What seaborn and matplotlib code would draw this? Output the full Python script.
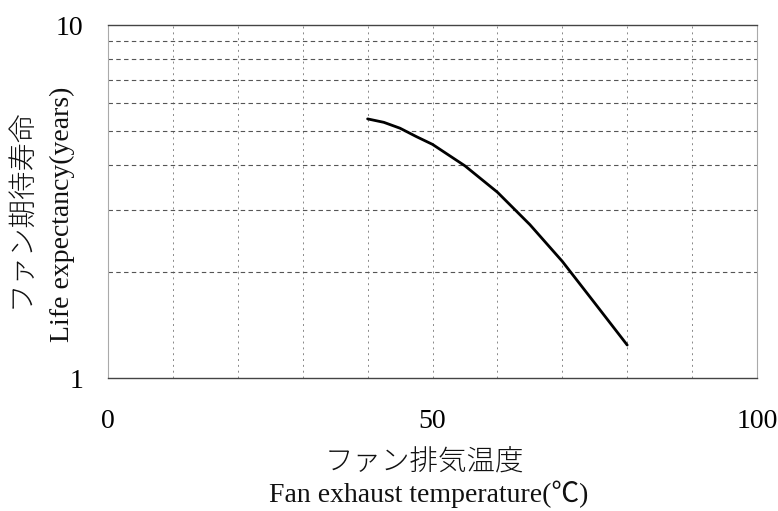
import matplotlib
matplotlib.use("Agg")
import matplotlib.pyplot as plt
import seaborn as sns
import pandas as pd
from matplotlib.ticker import FixedLocator, NullFormatter

# Data
temperature = [40, 42.5, 45, 47.5, 50, 55, 60, 65, 70, 75, 80]
life_years = [5.42, 5.30, 5.10, 4.83, 4.59, 3.99, 3.36, 2.72, 2.14, 1.63, 1.24]

x_major = [0, 50, 100]
x_minor = [10, 20, 30, 40, 60, 70, 80, 90]
y_major = [1, 10]
y_minor = [2, 3, 4, 5, 6, 7, 8, 9]

xlabel_ja = "ファン排気温度"
xlabel_en = "Fan exhaust temperature(℃)"
ylabel_ja = "ファン期待寿命"
ylabel_en = "Life expectancy(years)"

sns.set_theme(style="white")
plt.rcParams['font.family'] = ['Liberation Serif', 'Noto Sans CJK JP', 'DejaVu Sans']

df = pd.DataFrame({"temp": temperature, "life": life_years})

W, H = 778, 511
fig = plt.figure(figsize=(W / 100, H / 100), dpi=100)
ax = fig.add_axes([108 / W, 1 - 378 / H, (757 - 108) / W, (378 - 25) / H])

sns.lineplot(data=df, x="temp", y="life", color="black", linewidth=2.0, ax=ax)

ax.set_yscale("log")
ax.set_xlim(0, 100)
ax.set_ylim(1, 10)

ax.xaxis.set_major_locator(FixedLocator(x_major))
ax.xaxis.set_minor_locator(FixedLocator(x_minor))
ax.yaxis.set_major_locator(FixedLocator(y_major))
ax.yaxis.set_minor_locator(FixedLocator(y_minor))
ax.set_xticklabels([str(v) for v in x_major])
ax.set_yticklabels([str(v) for v in y_major])
ax.yaxis.set_minor_formatter(NullFormatter())
ax.xaxis.set_minor_formatter(NullFormatter())

ax.tick_params(axis="both", which="both", length=0, labelsize=20, colors="black")
ax.tick_params(axis="x", which="major", pad=22)
ax.tick_params(axis="y", which="major", pad=18)

ax.grid(False)
ax.yaxis.grid(True, which="minor", color="#555555", linestyle=(0, (4, 3)), linewidth=0.8)
ax.xaxis.grid(True, which="both", color="#888888", linestyle=(0, (2, 4)), linewidth=0.7)

for side in ["top", "bottom"]:
    ax.spines[side].set_color("#444444")
    ax.spines[side].set_linewidth(1.0)
for side in ["left", "right"]:
    ax.spines[side].set_color("#aaaaaa")
    ax.spines[side].set_linewidth(0.8)
    ax.spines[side].set_linestyle((0, (2, 1)))

ax.set_xlabel("")
ax.set_ylabel("")

fig.text(424 / W, 1 - 463 / H, xlabel_ja, fontsize=20.5, fontweight="light",
         ha="center", va="center", color="#111111")
fig.text(429 / W, 1 - 494 / H, xlabel_en, fontsize=20, ha="center", va="center", color="#111111")
fig.text(22 / W, 1 - 208 / H, ylabel_ja, fontsize=20.5, fontweight="light", rotation=90,
         ha="center", va="center", color="#111111")
fig.text(62 / W, 1 - 214 / H, ylabel_en, fontsize=20, rotation=90, ha="center", va="center", color="#111111")

fig.savefig("out.png", dpi=100, facecolor="white")
